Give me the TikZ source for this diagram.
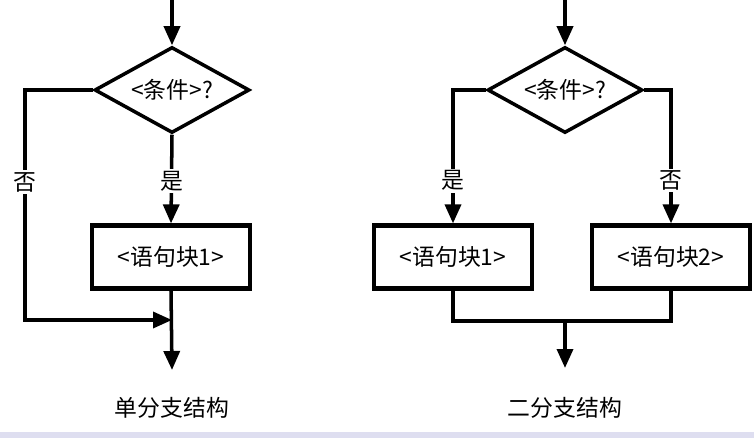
\documentclass[tikz,border=0pt]{standalone}
\usepackage{fontspec}
\setmainfont{Liberation Sans}
\newfontfamily\cjk{Noto Sans CJK SC}
\usetikzlibrary{shapes.geometric,arrows.meta}
\definecolor{band}{RGB}{222,222,240}
\begin{document}
\begin{tikzpicture}[x=0.02cm,y=-0.02cm,font=\cjk\fontsize{13}{15}\selectfont]
    \tikzset{flow/.style={draw,line width=2pt,-{Triangle[length=3.8mm,width=3.2mm]}},
             line/.style={draw,line width=2pt},
             cond/.style={draw,diamond,line width=2pt,minimum width=3.1cm,minimum height=1.72cm,inner sep=0pt,aspect=1.8},
             block/.style={draw,rectangle,line width=2.4pt,minimum width=3.15cm,minimum height=1.26cm},
             lbl/.style={fill=white,inner sep=1pt}}
    \useasboundingbox (0,0) rectangle (754,438);
    \fill[band] (0,432) rectangle (754,438);
    % single branch
    \coordinate (t1) at (172,0);
    \node[cond]  at (172,90)  (c1) {<条件>?};
    \node[block] at (171,257) (b1) {<语句块1>};
    \coordinate (l1) at (25,90);
    \coordinate (l2) at (25,320);
    \coordinate (j1) at (172,320);
    \coordinate (e1) at (172,370);
    \draw[flow] (t1) to (c1.north);
    \draw[flow] (c1.south) to node[lbl,pos=0.52] {是} (b1.north);
    \draw[flow] (c1.west) -- (l1) -- node[lbl,pos=0.4] {否} (l2) -- (j1);
    \draw[flow] (b1.south) to (e1);
    \node at (172,408) (n1) {单分支结构};
    % two branches
    \coordinate (t2) at (565,0);
    \node[cond]  at (565,90)  (c2) {<条件>?};
    \node[block] at (453,257) (b2) {<语句块1>};
    \node[block] at (671,257) (b3) {<语句块2>};
    \coordinate (r1) at (453,90);
    \coordinate (r2) at (671,90);
    \coordinate (m1) at (453,321);
    \coordinate (m2) at (671,321);
    \coordinate (j2) at (565,321);
    \coordinate (e2) at (565,368);
    \draw[flow] (t2) to (c2.north);
    \draw[flow] (c2.west) -- (r1) -- node[lbl,pos=0.68] {是} (b2.north);
    \draw[flow] (c2.east) -- (r2) -- node[lbl,pos=0.68] {否} (b3.north);
    \draw[line] (b2.south) -- (m1) -- (m2) -- (b3.south);
    \draw[flow] (j2) to (e2);
    \node at (565,408) (n2) {二分支结构};
\end{tikzpicture}
\end{document}
